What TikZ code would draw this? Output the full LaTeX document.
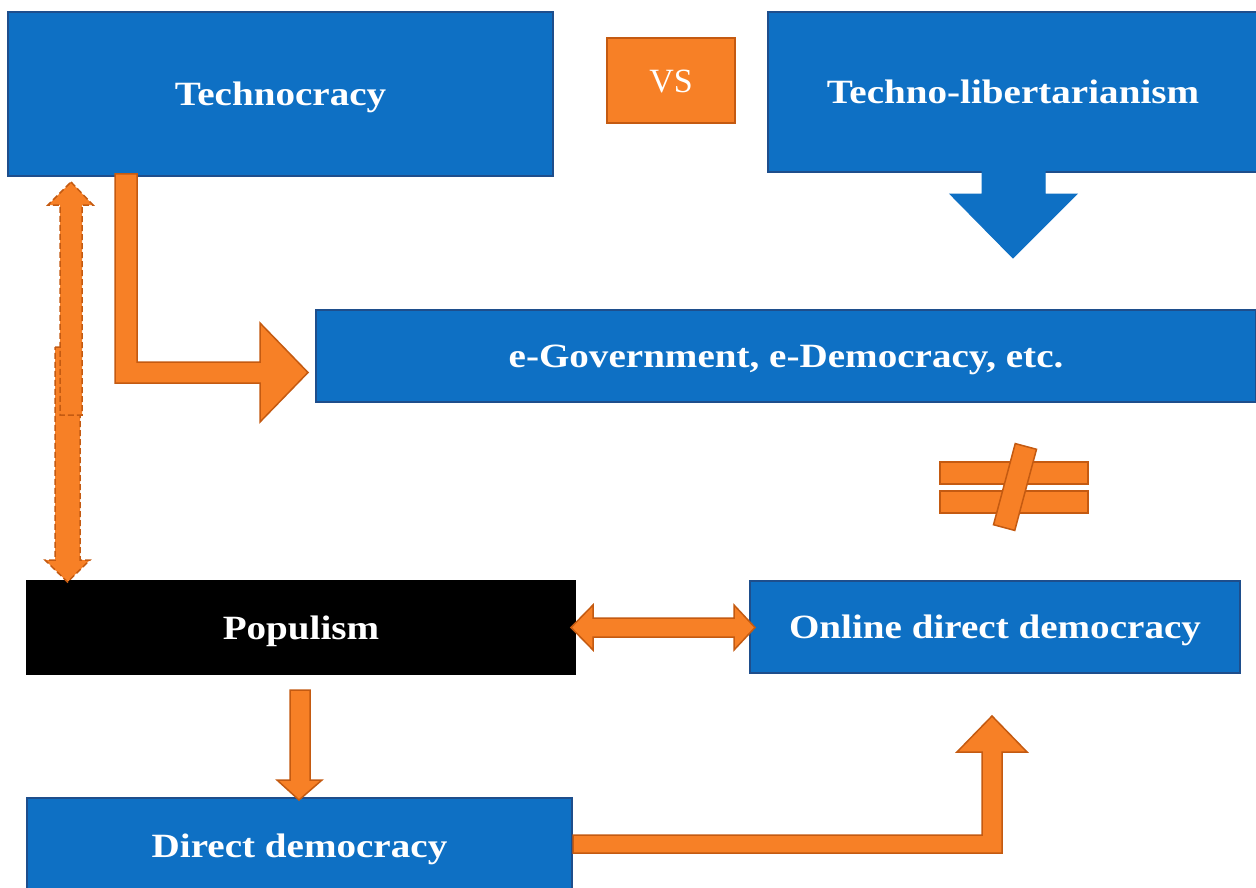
\documentclass[tikz,border=0pt]{standalone}
\usepackage{fontspec}
\setmainfont[FakeStretch=1.15]{Liberation Serif}
\newfontfamily\vsfont{Liberation Serif}
\definecolor{mblue}{RGB}{14,112,196}
\definecolor{dblue}{RGB}{30,78,140}
\definecolor{morange}{RGB}{247,128,38}
\definecolor{dorange}{RGB}{196,90,17}
\tikzset{
  box/.style={rectangle, inner sep=0pt, outer sep=0pt, line width=2.5pt, text=white,
    text height=23pt, text depth=0pt,
    font=\bfseries\fontsize{34}{40}\selectfont},
  bluebox/.style={box, draw=dblue, fill=mblue},
  blackbox/.style={box, draw=black, fill=black},
  vsbox/.style={rectangle, inner sep=0pt, line width=2pt, draw=dorange, fill=morange, text=white,
    text height=23pt, text depth=0pt,
    font=\vsfont\fontsize{34}{40}\selectfont},
  blockarrow/.style={fill=morange, draw=dorange, line width=1.5pt, line join=miter},
  dasharrow/.style={blockarrow, dashed, dash pattern=on 6pt off 3pt},
  bluearrow/.style={fill=mblue, draw=mblue, line width=1pt}
}
\begin{document}
\begin{tikzpicture}[x=1pt,y=-1pt]
\useasboundingbox[fill=white] (0,0) rectangle (1256,888);
% nodes
\node[bluebox, minimum width=545, minimum height=164] (techno) at (280.5,94) {Technocracy};
\node[vsbox, minimum width=128, minimum height=85] (vs) at (671,81) {VS};
\node[bluebox, minimum width=490, minimum height=160] (libert) at (1013,92) {Techno-libertarianism};
\node[bluebox, minimum width=940, minimum height=92] (egov) at (786,356) {e-Government, e-Democracy, etc.};
\node[blackbox, minimum width=548, minimum height=93] (pop) at (301,627.5) {Populism};
\node[bluearrow, bluebox, minimum width=490, minimum height=92] (online) at (995,627) {Online direct democracy};
\node[bluebox, minimum width=545, minimum height=96] (direct) at (299.5,846) {Direct democracy};
% blue down arrow from Techno-libertarianism
\draw[bluearrow] (982,171) -- (1045,171) -- (1045,194) -- (1077,194) -- (1013,258) -- (950,194) -- (982,194) -- cycle;
% bent arrow Technocracy -> e-Government
\draw[blockarrow] (115,174) -- (137,174) -- (137,362) -- (260,362) -- (260,323) -- (308,372.5) -- (260,422) -- (260,383) -- (115,383) -- cycle;
% dashed double arrow Technocracy <-> Populism (two overlapping shapes)
\draw[dasharrow] (55,347) -- (80,347) -- (80,560) -- (90,560) -- (67.5,582) -- (45,560) -- (55,560) -- cycle;
\draw[dasharrow] (71,182) -- (93,205) -- (82,205) -- (82,415) -- (60,415) -- (60,205) -- (48,205) -- cycle;
% not-equal sign
\draw[blockarrow] (940,462) rectangle (1088,484);
\draw[blockarrow] (940,491) rectangle (1088,513);
\node[rectangle, draw=dorange, fill=morange, line width=1.5pt, minimum width=22, minimum height=84, inner sep=0pt, rotate=-15] (ne) at (1015,487) {};
% double arrow Populism <-> Online
\draw[blockarrow] (571,627.5) -- (593,605) -- (593,618) -- (734,618) -- (734,605) -- (755,627.5) -- (734,650) -- (734,637) -- (593,637) -- (593,650) -- cycle;
% Populism -> Direct democracy
\draw[blockarrow] (290,690) -- (310,690) -- (310,780) -- (322,780) -- (299,800) -- (277,780) -- (290,780) -- cycle;
% Direct democracy -> Online direct democracy
\draw[blockarrow] (573,835) -- (982,835) -- (982,752) -- (957,752) -- (992,716) -- (1027,752) -- (1002,752) -- (1002,853) -- (573,853) -- cycle;
\end{tikzpicture}
\end{document}
